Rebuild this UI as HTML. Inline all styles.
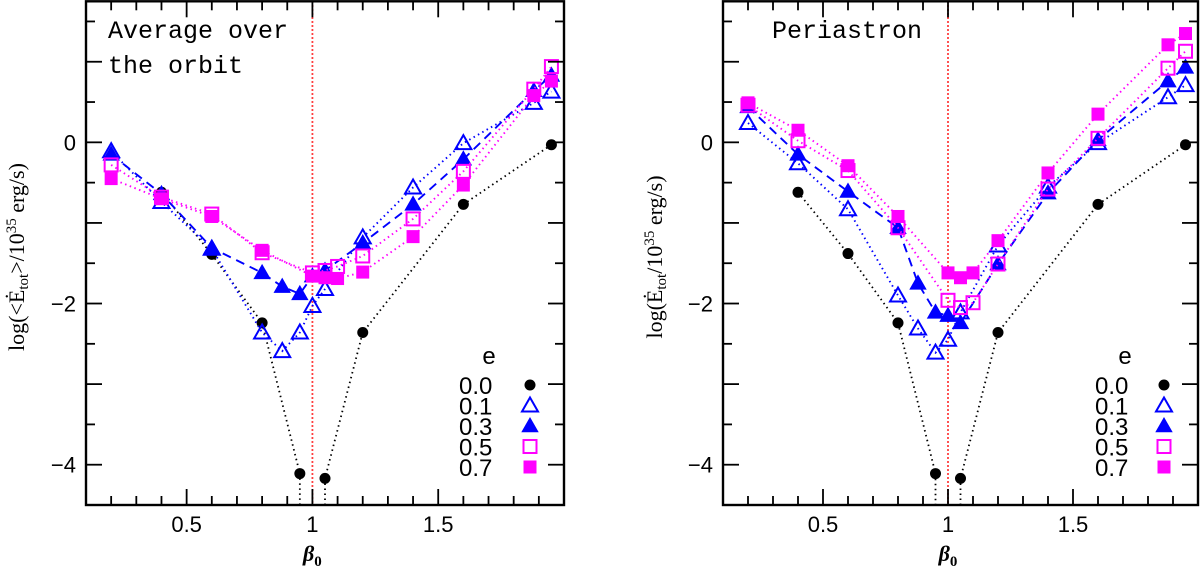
<!DOCTYPE html>
<html><head><meta charset="utf-8"><style>
html,body{margin:0;padding:0;background:#fff;}
svg{display:block;}
</style></head><body>
<svg id="chart" width="1200" height="569" viewBox="0 0 1200 569" xmlns="http://www.w3.org/2000/svg" font-family="Liberation Sans, sans-serif"></svg>
<script>
const betaX = [0.2,0.4,0.6,0.8,0.88,0.95,1.0,1.05,1.1,1.2,1.4,1.6,1.88,1.95];
const eLabels = ["0.0","0.1","0.3","0.5","0.7"];
const xTicks = [0.5,1,1.5];
const yTicks = [0,-2,-4];
// Left panel: average over orbit (null = no point)
const avgE00 = [null,-0.62,-1.39,-2.24,null,-4.11,null,-4.17,null,-2.36,null,-0.77,null,-0.03];
const avgE01 = [-0.11,-0.74,-1.32,-2.36,-2.59,-2.36,-2.03,-1.82,null,-1.18,-0.56,-0.01,0.49,0.63];
const avgE03 = [-0.15,-0.64,-1.31,-1.62,-1.79,-1.88,-1.66,-1.59,null,-1.25,-0.77,-0.21,0.64,0.83];
const avgE05 = [-0.28,-0.68,-0.89,-1.37,null,null,-1.62,-1.59,-1.54,-1.41,-0.95,-0.36,0.66,0.94];
const avgE07 = [-0.45,-0.70,-0.92,-1.34,null,null,-1.66,-1.68,-1.69,-1.61,-1.17,-0.53,0.58,0.76];
// Right panel: periastron
const perE00 = [null,-0.62,-1.38,-2.24,null,-4.11,null,-4.17,null,-2.36,null,-0.77,null,-0.03];
const perE01 = [0.24,-0.26,-0.83,-1.90,-2.31,-2.61,-2.45,-2.11,null,-1.28,-0.55,-0.01,0.56,0.71];
const perE03 = [0.44,-0.15,-0.61,-1.06,-1.75,-2.11,-2.15,-2.24,null,-1.51,-0.63,0.03,0.76,0.93];
const perE05 = [0.46,0.02,-0.35,-1.06,null,null,-1.96,-2.05,-1.99,-1.51,-0.58,0.05,0.92,1.13];
const perE07 = [0.49,0.15,-0.29,-0.92,null,null,-1.62,-1.68,-1.62,-1.22,-0.38,0.35,1.21,1.35];

const NS="http://www.w3.org/2000/svg";
const svg=document.getElementById('chart');
function mk(tag,attrs,parent){const e=document.createElementNS(NS,tag);for(const k in attrs)e.setAttribute(k,attrs[k]);(parent||svg).appendChild(e);return e;}

const Y0=-4.5,Y1=1.75,TOP=1.3,BOT=505;
const X0=0.1,X1=2.0;
function yS(v){return BOT-(v-Y0)/(Y1-Y0)*(BOT-TOP);}

const styles=[
 {c:"#000",dash:"1.5,3.5",m:"circle",fill:true},
 {c:"#0000ff",dash:"1.5,3.5",m:"tri",fill:false},
 {c:"#0000ff",dash:"9,6",m:"tri",fill:true},
 {c:"#ff00ff",dash:"1.5,3.5",m:"sq",fill:false},
 {c:"#ff00ff",dash:"1.5,3.5",m:"sq",fill:true}];

function marker(g,type,fill,c,x,y){
  let el;
  if(type==="circle"){el=mk('circle',{cx:x,cy:y,r:5.5,fill:c},g);}
  else if(type==="tri"){const s=fill?7:8;el=mk('polygon',{points:`${x},${y-s} ${x-s},${y+s*0.75} ${x+s},${y+s*0.75}`,fill:fill?c:'none',stroke:c,'stroke-width':2},g);}
  else {const s=fill?5.5:6.5;el=mk('rect',{x:x-s,y:y-s,width:2*s,height:2*s,fill:fill?c:'none',stroke:c,'stroke-width':2},g);}
  return el;
}

function panel(id,L,R,series,title,ylab,legX,legTX,ylabX){
  const g=mk('g',{});
  
  
  const xS=v=>L+(v-X0)/(X1-X0)*(R-L);
  const rl=mk('line',{x1:xS(1),x2:xS(1),y1:TOP,y2:BOT,stroke:'#ff0000','stroke-width':1.8,'stroke-dasharray':'1.5,2.5'},g);
  
  
  series.forEach((arr,si)=>{
    const st=styles[si];
    const sg=mk('g',{},g);
    
    
    const pts=[];
    arr.forEach((v,i)=>{if(v!==null)pts.push([xS(betaX[i]),yS(v)]);});
    if(si===0){
      const left=[],right=[];
      arr.forEach((v,i)=>{if(v===null)return;(betaX[i]<1?left:right).push([xS(betaX[i]),yS(v)]);});
      left.push([left[left.length-1][0],BOT]);
      right.unshift([right[0][0],BOT]);
      [left,right].forEach(p=>mk('polyline',{points:p.map(q=>q.join(',')).join(' '),fill:'none',stroke:st.c,'stroke-width':1.8,'stroke-dasharray':st.dash},sg));
    } else {
      mk('polyline',{points:pts.map(q=>q.join(',')).join(' '),fill:'none',stroke:st.c,'stroke-width':1.9,'stroke-dasharray':st.dash},sg);
    }
    pts.forEach(p=>{const m=marker(sg,st.m,st.fill,st.c,p[0],p[1]);
      
      });
  });
  const fr=mk('rect',{x:L,y:TOP,width:R-L,height:BOT-TOP,fill:'none',stroke:'#000','stroke-width':2.4},g);
  
  
  for(let k=2;k<=19;k++){const v=k/10,x=xS(v),maj=(k%5===0);
    mk('line',{x1:x,x2:x,y1:BOT,y2:BOT-(maj?16:9),stroke:'#000','stroke-width':1.8},g);
    mk('line',{x1:x,x2:x,y1:TOP,y2:TOP+(maj?16:9),stroke:'#000','stroke-width':1.8},g);}
  xTicks.forEach(v=>{const t=mk('text',{x:xS(v),y:532,'text-anchor':'middle','font-size':22},g);t.textContent=String(v);
    });
  for(let k=-9;k<=3;k++){const v=k/2,y=yS(v),maj=(k%2===0);
    mk('line',{x1:L,x2:L+(maj?16:9),y1:y,y2:y,stroke:'#000','stroke-width':1.8},g);
    mk('line',{x1:R,x2:R-(maj?16:9),y1:y,y2:y,stroke:'#000','stroke-width':1.8},g);}
  yTicks.forEach(v=>{const t=mk('text',{x:L-10,y:yS(v)+8,'text-anchor':'end','font-size':22},g);t.textContent=v<0?'\u2212'+(-v):String(v);
    });
  const xt=mk('text',{x:xS(1),y:561,'text-anchor':'middle','font-size':22,'font-style':'italic','font-weight':'bold','font-family':'Liberation Serif, serif'},g);
  xt.innerHTML='β<tspan font-size="15" dy="5" font-style="normal">0</tspan>';
  
  const yt=mk('text',{x:0,y:0,'text-anchor':'middle','font-size':22,'font-family':'Liberation Serif, serif',transform:`translate(${ylabX},257) rotate(-90)`},g);
  yt.innerHTML=ylab;
  
  title.forEach((line,i)=>{const t=mk('text',{x:line.x,y:line.y,'font-size':25,'font-family':'Liberation Mono, monospace'},g);t.textContent=line.s;
    });
  const lg=mk('g',{},g);
  
  const et=mk('text',{x:legTX+26,y:364,'font-size':24,'text-anchor':'middle'},lg);et.textContent='e';
  eLabels.forEach((lab,i)=>{const y=385+i*20.5;
    const t=mk('text',{x:legTX-4,y:y+9,'font-size':24},lg);t.textContent=lab;
    
    const st=styles[i];marker(lg,st.m,st.fill,st.c,legX,y);});
}

panel('panel-average',86,564,[avgE00,avgE01,avgE03,avgE05,avgE07],
  [{s:'Average over',x:108,y:38},{s:'the orbit',x:108,y:73}],
  'log(&lt;Ė<tspan font-size="15" dy="4">tot</tspan><tspan dy="-4">&gt;/10</tspan><tspan font-size="15" dy="-8">35</tspan><tspan dy="8"> erg/s)</tspan>',
  530,463,24);
panel('panel-periastron',723,1198,[perE00,perE01,perE03,perE05,perE07],
  [{s:'Periastron',x:772,y:38}],
  'log(Ė<tspan font-size="15" dy="4">tot</tspan><tspan dy="-4">/10</tspan><tspan font-size="15" dy="-8">35</tspan><tspan dy="8"> erg/s)</tspan>',
  1164,1099,662);
</script>
</body></html>
